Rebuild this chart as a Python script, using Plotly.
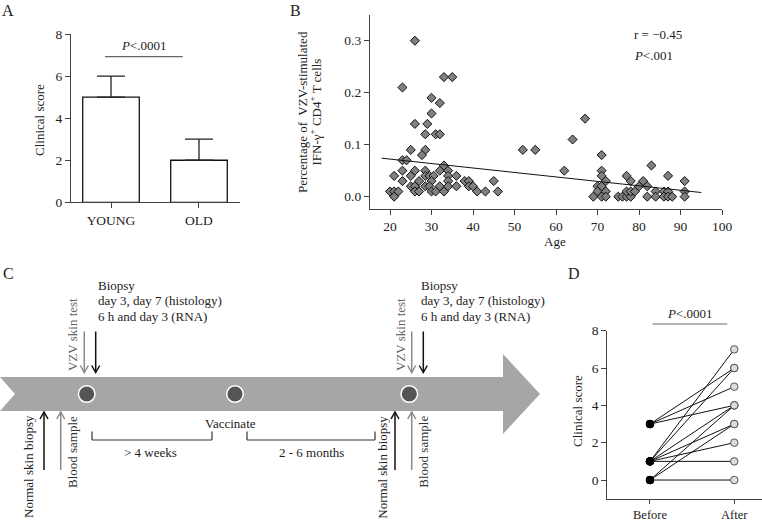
import plotly.graph_objects as go

W, H = 762, 522
def px(x): return x / W
def py(y): return 1 - y / H

FONT = "'Liberation Serif', 'Times New Roman', serif"
AX = "#404040"
FS = 13

# ---------------- Panel A data ----------------
a_groups = ["YOUNG", "OLD"]
a_means = [5, 2]
a_err = [1, 1]
a_ticks = [0, 2, 4, 6, 8]

# ---------------- Panel B data ----------------
b_age = [26, 23, 33, 35, 30, 32, 30, 26, 29, 28.5, 31, 32, 25, 28.5, 27.7, 23, 24, 33,
         21, 23, 26, 28.5, 32, 34, 25, 28.5, 29.5, 30.5, 34, 36, 23, 27, 30, 34, 38, 39,
         25, 26, 28.5, 29.5, 32, 34, 36, 39, 40, 45, 20, 21, 22, 26, 27, 30, 31, 33, 41,
         43, 46, 21,
         52, 55, 62, 64, 67,
         71, 71, 71, 72, 70, 71, 70, 72, 69, 71, 72, 77, 78, 75, 76, 77, 78, 77, 78, 79,
         80, 81, 82, 83, 82, 84, 84, 86, 86, 87, 87, 88, 87, 91, 91, 91]
b_pct = [0.30, 0.21, 0.23, 0.23, 0.19, 0.18, 0.16, 0.14, 0.14, 0.12, 0.12, 0.12, 0.09,
         0.09, 0.08, 0.07, 0.07, 0.06, 0.04, 0.05, 0.05, 0.05, 0.05, 0.05, 0.04, 0.04,
         0.04, 0.04, 0.04, 0.04, 0.03, 0.03, 0.03, 0.03, 0.03, 0.03, 0.02, 0.02, 0.02,
         0.02, 0.02, 0.02, 0.02, 0.02, 0.02, 0.03, 0.01, 0.01, 0.01, 0.01, 0.01, 0.01,
         0.01, 0.01, 0.01, 0.01, 0.01, 0.00,
         0.09, 0.09, 0.05, 0.11, 0.15,
         0.08, 0.05, 0.04, 0.03, 0.02, 0.02, 0.01, 0.01, 0.00, 0.00, 0.00, 0.04, 0.03,
         0.00, 0.00, 0.00, 0.00, 0.01, 0.01, 0.01, 0.02, 0.03, 0.02, 0.06, 0.00, 0.01,
         0.00, 0.01, 0.00, 0.01, 0.00, 0.00, 0.04, 0.03, 0.01, 0.00]
fit_age = [18, 95]
fit_pct = [0.074, 0.008]
b_xticks = [20, 30, 40, 50, 60, 70, 80, 90, 100]
b_yticks = [0.0, 0.1, 0.2, 0.3]

# ---------------- Panel D data ----------------
d_groups = ["Before", "After"]
d_before = [3, 3, 3, 1, 1, 1, 1, 1, 1, 0, 0, 0]
d_after = [6, 5, 4, 7, 6, 4, 3, 2, 1, 4, 3, 0]
d_ticks = [0, 2, 4, 6, 8]

# ---------------- Panel C timeline ----------------
band_top, band_bot, band_mid = 377, 411, 394
head_base, head_tip, head_top, head_bot = 503, 540, 354, 434
circle_x = [86.7, 235, 409.3]
down_arrows = [(84.3, "#8a8a8a"), (95.7, "#111111"), (411.7, "#8a8a8a"), (423.3, "#111111")]
up_arrows = [(44, "#111111"), (60.7, "#8a8a8a"), (395, "#111111"), (411.7, "#8a8a8a")]
brackets = [(92, 212), (247, 375)]

fig = go.Figure()

# Panel A
fig.add_trace(go.Bar(
    x=a_groups, y=a_means, width=0.643,
    marker=dict(color="white", line=dict(color="#111", width=1.3)),
    error_y=dict(type="data", array=a_err, arrayminus=[0, 0], symmetric=False,
                 color="#222", thickness=1.3, width=14),
    xaxis="x", yaxis="y"))

# Panel B
fig.add_trace(go.Scatter(
    x=b_age, y=b_pct, mode="markers",
    marker=dict(symbol="diamond", size=7, color="#808080", line=dict(color="#111", width=1)),
    xaxis="x2", yaxis="y2"))
fig.add_trace(go.Scatter(
    x=fit_age, y=fit_pct, mode="lines", line=dict(color="#111", width=1),
    xaxis="x2", yaxis="y2"))

# Panel D
lx, ly = [], []
for b, a in zip(d_before, d_after):
    lx += [d_groups[0], d_groups[1], None]
    ly += [b, a, None]
fig.add_trace(go.Scatter(x=lx, y=ly, mode="lines", line=dict(color="#111", width=1),
                         xaxis="x3", yaxis="y3"))
fig.add_trace(go.Scatter(x=[d_groups[0]] * len(d_before), y=d_before, mode="markers",
                         marker=dict(size=7.5, color="#000", line=dict(color="#000", width=1)),
                         xaxis="x3", yaxis="y3"))
fig.add_trace(go.Scatter(x=[d_groups[1]] * len(d_after), y=d_after, mode="markers",
                         marker=dict(size=7.5, color="#dcdcdc", line=dict(color="#555", width=1)),
                         xaxis="x3", yaxis="y3"))

tickfont = dict(family=FONT, size=13.5, color="#222")
axcommon = dict(showline=True, linecolor=AX, linewidth=1.2, ticks="outside", ticklen=5,
                tickcolor=AX, tickwidth=1.2, showgrid=False, zeroline=False,
                tickfont=tickfont, fixedrange=True, automargin=False)

fig.update_layout(
    width=W, height=H, margin=dict(l=0, r=0, t=0, b=0),
    paper_bgcolor="white", plot_bgcolor="rgba(0,0,0,0)", showlegend=False,
    font=dict(family=FONT, size=FS, color="#222"),
    xaxis=dict(domain=[px(71), px(240)], anchor="y", range=[-0.4545, 1.466],
               type="category", **axcommon),
    yaxis=dict(domain=[py(202.3), py(34)], anchor="x", range=[0, 8],
               tickvals=a_ticks, **axcommon),
    xaxis2=dict(domain=[px(370), px(722)], anchor="y2", range=[15.18, 100],
                tickvals=b_xticks, **axcommon),
    yaxis2=dict(domain=[py(209), py(15)], anchor="x2", range=[-0.0237, 0.3494],
                tickvals=b_yticks, ticktext=["0.0", "0.1", "0.2", "0.3"], **axcommon),
    xaxis3=dict(domain=[px(607.3), 1], anchor="y3", range=[-0.5065, 1.329],
                type="category", **{**axcommon, "ticklen": 4,
                                    "tickfont": dict(family=FONT, size=12.5, color="#222")}),
    yaxis3=dict(domain=[py(498.7), py(330.7)], anchor="x3", range=[-1, 8],
                tickvals=d_ticks, **axcommon),
)

shapes = []
ann = []

def text(x, y, s, size=FS, color="#222", angle=0, xa="center", ya="middle", align="center"):
    ann.append(dict(x=px(x), y=py(y), xref="paper", yref="paper", text=s, showarrow=False,
                    textangle=angle, xanchor=xa, yanchor=ya, align=align, borderpad=0,
                    font=dict(family=FONT, size=size, color=color)))

def seg(x0, y0, x1, y1, color="#333", w=1.2):
    shapes.append(dict(type="line", xref="paper", yref="paper", x0=px(x0), x1=px(x1),
                       y0=py(y0), y1=py(y1), line=dict(color=color, width=w)))

def arrow(x, y_tail, y_tip, color):
    seg(x, y_tail, x, y_tip, color, 1.5)
    d = 1 if y_tip > y_tail else -1
    path = (f"M {px(x - 4)},{py(y_tip - d * 7)} L {px(x)},{py(y_tip)} "
            f"L {px(x + 4)},{py(y_tip - d * 7)}")
    shapes.append(dict(type="path", xref="paper", yref="paper", path=path,
                       line=dict(color=color, width=1.5)))

# Panel letters
text(8, 10, "A", size=16)
text(295, 10, "B", size=16)
text(8, 273, "C", size=16)
text(574, 273, "D", size=16)

# Panel A extras
text(40, 120, "Clinical score", angle=-90)
text(144, 46, "<i>P</i>&lt;.0001")
seg(105, 56.7, 182.7, 56.7, color="#666")

# Panel B extras
text(302, 112, "Percentage of  VZV-stimulated", angle=-90)
text(315.5, 112, "IFN-γ<sup>+</sup> CD4<sup>+</sup> T cells", angle=-90)
text(555, 241, "Age")
text(633, 34, "r = −0.45", xa="left")
text(633, 55, "<i>P</i>&lt;.001", xa="left")

# Panel D extras
text(577, 411, "Clinical score", angle=-90)
text(690, 313, "<i>P</i>&lt;.0001")
seg(652.7, 324, 727.3, 324, color="#666")

# Panel C: band arrow
path = (f"M {px(0)},{py(band_top)} L {px(head_base)},{py(band_top)} "
        f"L {px(head_base)},{py(head_top)} L {px(head_tip)},{py(band_mid)} "
        f"L {px(head_base)},{py(head_bot)} L {px(head_base)},{py(band_bot)} "
        f"L {px(0)},{py(band_bot)} L {px(15)},{py(band_mid)} Z")
shapes.append(dict(type="path", xref="paper", yref="paper", path=path,
                   fillcolor="#a6a6a6", line=dict(width=0), layer="below"))
r = 8.3
for cx in circle_x:
    shapes.append(dict(type="circle", xref="paper", yref="paper",
                       x0=px(cx - r), x1=px(cx + r), y0=py(band_mid + r), y1=py(band_mid - r),
                       fillcolor="#555555", line=dict(color="white", width=1.5)))
for x0, x1 in brackets:
    seg(x0, 440, x1, 440)
    seg(x0, 431.5, x0, 440)
    seg(x1, 431.5, x1, 440)

for x, col in down_arrows:
    arrow(x, 331.5, 372.5, col)
for x, col in up_arrows:
    arrow(x, 470, 412, col)

biopsy_lines = ["Biopsy", "day 3, day 7 (histology)", "6 h and day 3 (RNA)"]
for bx in (97, 420):
    for i, line in enumerate(biopsy_lines):
        text(bx, 285 + 15.5 * i, line, xa="left")
text(72, 335, "VZV skin test", angle=-90, color="#666")
text(400, 335, "VZV skin test", angle=-90, color="#666")
text(28, 467, "Normal skin biopsy", angle=-90)
text(381.7, 467, "Normal skin biopsy", angle=-90)
text(72, 452, "Blood sample", angle=-90, color="#333")
text(422.7, 452, "Blood sample", angle=-90, color="#333")
text(230.5, 423, "Vaccinate")
text(150, 452, "&gt; 4 weeks")
text(311.7, 452, "2 - 6 months")

fig.update_layout(shapes=shapes, annotations=ann)
fig.write_html("out.html",
               config={"displayModeBar": False},
               post_script="document.body.style.margin='0px';"
                           "document.body.style.overflow='hidden';")
